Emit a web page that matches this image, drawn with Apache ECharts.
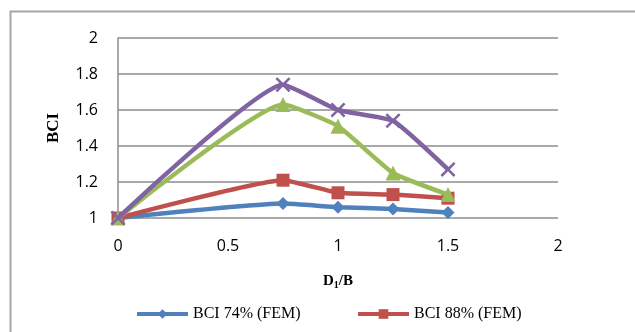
<!DOCTYPE html>
<html>
<head>
<meta charset="utf-8">
<script src="https://cdn.jsdelivr.net/npm/echarts@6/dist/echarts.min.js"></script>
<style>
  html, body { margin: 0; padding: 0; background: #fff; }
  #chart { width: 635px; height: 332px; }
</style>
</head>
<body>
<div id="chart"></div>
<script>
// D1/B ratios along the horizontal axis
const ratios = [0, 0.75, 1, 1.25, 1.5];

// Bearing capacity improvement for each relative density
const bci74 = [1.00, 1.08, 1.06, 1.05, 1.03];
const bci88 = [1.00, 1.21, 1.14, 1.13, 1.11];
const bciSet3 = [1.00, 1.63, 1.51, 1.25, 1.13];
const bciSet4 = [1.00, 1.74, 1.60, 1.54, 1.27];

const seriesNames = ['BCI 74% (FEM)', 'BCI 88% (FEM)', 'BCI set 3', 'BCI set 4'];
const seriesValues = [bci74, bci88, bciSet3, bciSet4];

const colors = ['#4F81BD', '#C0504D', '#9BBB59', '#8064A2'];
const symbols = [
  'diamond',
  'rect',
  'triangle',
  'path://M0,1.2L1.2,0L5,3.8L8.8,0L10,1.2L6.2,5L10,8.8L8.8,10L5,6.2L1.2,10L0,8.8L3.8,5Z'
];
const symbolSizes = [13, 13, 15, 15];

const pairs = (vals) => ratios.map((x, i) => [x, vals[i]]);

const chart = echarts.init(document.getElementById('chart'), null, { renderer: 'canvas' });

const serif = '"Liberation Serif", "Times New Roman", serif';
const sans = '"Open Sans", "Noto Sans", sans-serif';

const legendBase = {
  itemWidth: 51, itemHeight: 12, itemGap: 4, padding: 0,
  lineStyle: { width: 4 },
  textStyle: { fontFamily: serif, fontSize: 16, color: '#000' }
};

chart.setOption({
  animation: false,
  color: colors,
  graphic: [{
    type: 'rect',
    left: 8, top: 9,
    shape: { width: 700, height: 400 },
    style: { fill: 'none', stroke: '#a6a6a6', lineWidth: 2 },
    silent: true
  }],
  grid: { left: 118, right: 77, top: 38, bottom: 114 },
  xAxis: {
    type: 'value',
    min: 0, max: 2, interval: 0.5,
    name: '{b|D}{s|1}{b|/B}',
    nameLocation: 'middle',
    nameGap: 55,
    nameTextStyle: {
      rich: {
        b: { fontFamily: serif, fontWeight: 'bold', fontSize: 15, color: '#000' },
        s: { fontFamily: serif, fontWeight: 'bold', fontSize: 10, color: '#000', verticalAlign: 'bottom', padding: [7, 0, 0, 0] }
      }
    },
    axisLine: { show: false },
    axisTick: { show: false },
    splitLine: { show: false },
    axisLabel: { fontFamily: sans, fontSize: 16, color: '#000', margin: 20 }
  },
  yAxis: {
    type: 'value',
    min: 1, max: 2, interval: 0.2,
    name: 'BCI',
    nameLocation: 'middle',
    nameGap: 56,
    nameRotate: 90,
    nameTextStyle: { fontFamily: serif, fontWeight: 'bold', fontSize: 17, color: '#000' },
    axisLine: { show: true, lineStyle: { color: '#8c8c8c', width: 1.5 } },
    axisTick: { show: false },
    splitLine: { show: true, lineStyle: { color: '#8c8c8c', width: 1.5 } },
    axisLabel: {
      fontFamily: sans, fontSize: 16, color: '#000', margin: 20,
      formatter: (v) => String(Math.round(v * 10) / 10)
    }
  },
  legend: [
    Object.assign({ data: [seriesNames[0]], left: 135, top: 306 }, legendBase),
    Object.assign({ data: [seriesNames[1]], left: 356, top: 306 }, legendBase)
  ],
  series: seriesValues.map((vals, i) => ({
    name: seriesNames[i],
    type: 'line',
    data: pairs(vals),
    smooth: 0.14,
    symbol: symbols[i],
    symbolSize: symbolSizes[i],
    lineStyle: { width: 4.5, color: colors[i] },
    itemStyle: { color: colors[i] },
    z: 2 + i
  }))
});
</script>
</body>
</html>
